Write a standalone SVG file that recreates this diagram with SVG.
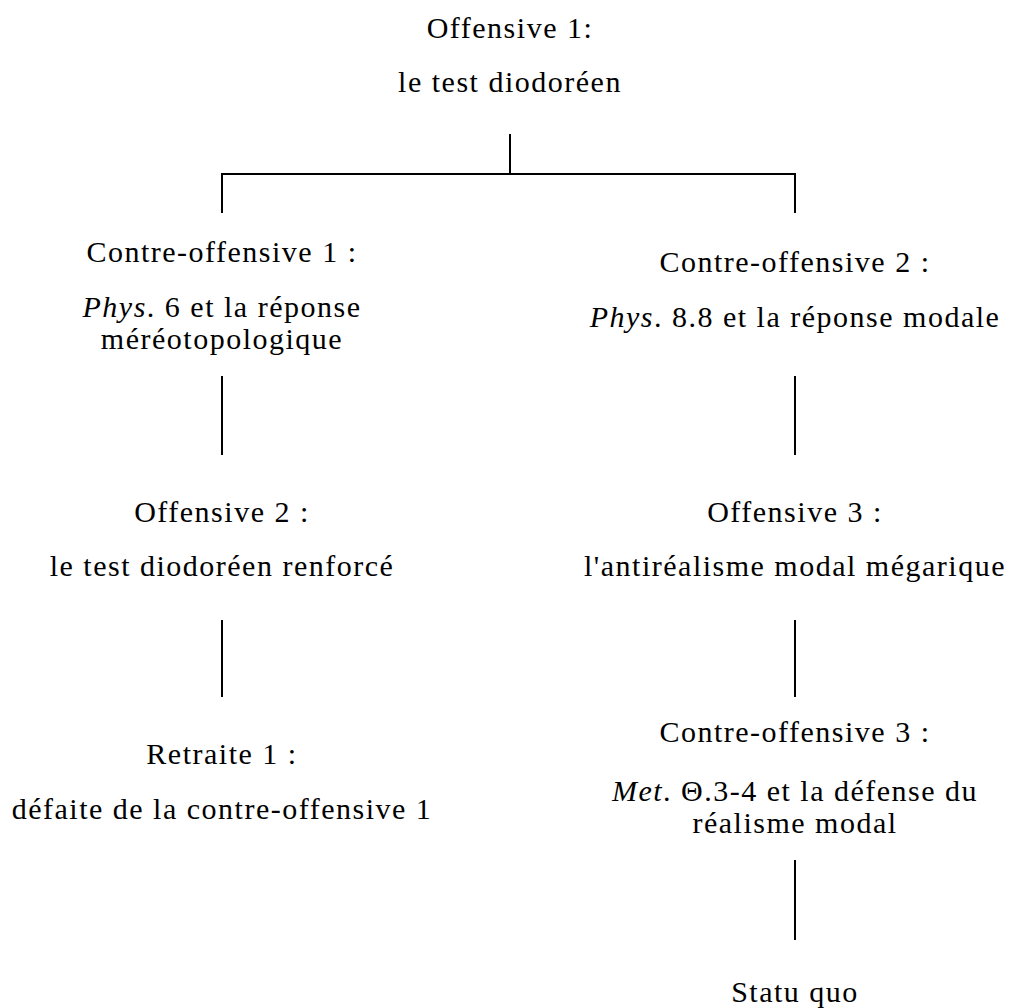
<svg xmlns="http://www.w3.org/2000/svg" width="1015" height="1008" viewBox="0 0 1015 1008">
  <style>
    text { font-family: 'Liberation Serif', 'DejaVu Serif', serif; font-size: 30px; fill: #000; text-anchor: middle; letter-spacing: 1.5px; }
    .it { font-style: italic; }
    .edge { stroke: #000; stroke-width: 2; fill: none; stroke-linecap: butt; }
  </style>
  <rect width="1015" height="1008" fill="#fff"/>

  <g id="connectors">
    <path class="edge" d="M510 134 V174 M222 213 V174 H795 V213"/>
    <path class="edge" d="M222 376 V455"/>
    <path class="edge" d="M222 620 V697"/>
    <path class="edge" d="M795 376 V455"/>
    <path class="edge" d="M795 620 V697"/>
    <path class="edge" d="M795 860 V940"/>
  </g>

  <g id="offensive1">
    <text x="510" y="38">Offensive 1:</text>
    <text x="510" y="92">le test diodoréen</text>
  </g>

  <g id="contre-offensive1">
    <text x="222" y="262">Contre-offensive 1 :</text>
    <text x="222" y="317"><tspan class="it">Phys</tspan>. 6 et la réponse</text>
    <text x="222" y="349">méréotopologique</text>
  </g>

  <g id="offensive2">
    <text x="222" y="522">Offensive 2 :</text>
    <text x="222" y="576">le test diodoréen renforcé</text>
  </g>

  <g id="retraite1">
    <text x="222" y="764">Retraite 1 :</text>
    <text x="222" y="819">défaite de la contre-offensive 1</text>
  </g>

  <g id="contre-offensive2">
    <text x="795" y="272">Contre-offensive 2 :</text>
    <text x="795" y="327"><tspan class="it">Phys</tspan>. 8.8 et la réponse modale</text>
  </g>

  <g id="offensive3">
    <text x="795" y="522">Offensive 3 :</text>
    <text x="795" y="576">l'antiréalisme modal mégarique</text>
  </g>

  <g id="contre-offensive3">
    <text x="795" y="742">Contre-offensive 3 :</text>
    <text x="795" y="801"><tspan class="it">Met</tspan>. Θ.3-4 et la défense du</text>
    <text x="795" y="833">réalisme modal</text>
  </g>

  <g id="statu-quo">
    <text x="795" y="1002">Statu quo</text>
  </g>
</svg>
